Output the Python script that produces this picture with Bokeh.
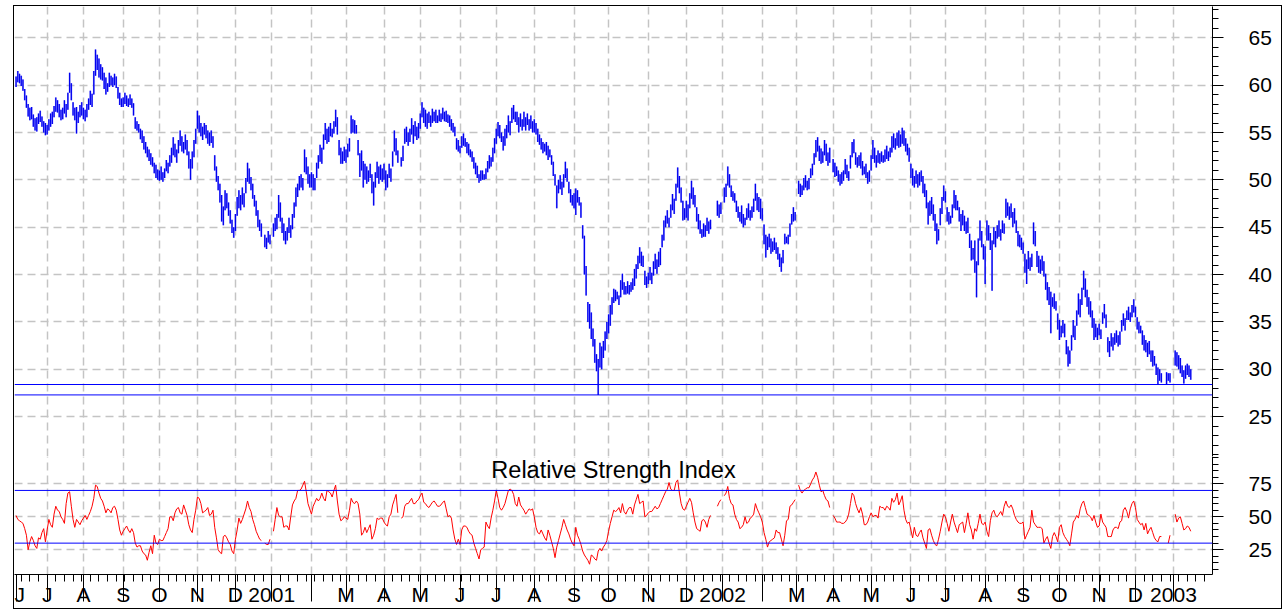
import numpy as np
import pandas as pd
from bokeh.plotting import figure
from bokeh.layouts import column
from bokeh.models import Range1d, FixedTicker, Span, Label, ColumnDataSource, Grid
from bokeh.embed import file_html
from bokeh.resources import INLINE

START = "2000-06-07"
AXIS_END = "2003-01-31"

# ---- daily bars (one value per weekday from START; None = no trading) ----
high = [
    60.9,61.5,61.2,61.0,60.6,59.6,58.9,58.0,57.6,57.7,56.9,56.5,56.6,57.0,57.3,56.7,56.2,56.0,
    55.8,56.4,57.0,57.2,57.8,58.7,58.4,58.0,57.4,57.6,58.4,58.0,59.2,61.3,60.2,58.2,57.6,57.7,57.2,57.9,58.2,
    57.6,57.4,58.0,58.6,59.4,59.1,61.5,63.75,63.2,62.8,62.2,61.9,61.3,60.8,60.2,61.3,61.0,60.8,61.2,60.9,59.8,59.2,58.6,
    58.7,59.2,58.9,58.6,59.0,58.6,58.1,56.6,56.2,55.9,55.4,55.2,54.6,54.0,53.5,53.2,52.8,52.4,51.8,51.6,51.1,
    51.0,51.4,50.8,51.2,52.1,51.8,52.6,53.4,54.5,53.8,53.2,54.2,55.2,54.6,54.0,54.8,54.2,53.0,52.2,53.0,54.2,55.4,
    57.3,56.8,56.0,55.6,56.0,55.8,55.2,55.0,55.2,54.6,52.6,51.4,50.4,49.6,48.4,47.2,48.9,48.6,47.6,46.8,45.8,45.0,
    46.4,48.2,48.9,48.4,49.2,48.6,50.2,51.8,51.2,50.3,49.6,48.4,47.8,46.8,45.8,45.4,None,44.2,43.9,44.6,44.2,
    None,45.4,46.0,46.4,48.4,47.6,46.0,45.4,44.6,45.0,46.0,45.2,46.4,47.6,49.2,49.6,50.4,50.6,50.2,53.2,52.4,51.4,50.6,
    50.8,50.6,50.2,51.8,52.6,53.7,53.4,54.8,56.0,55.4,55.6,56.0,55.4,56.2,57.4,56.6,54.2,53.4,53.0,53.5,
    53.2,53.8,54.4,56.8,56.4,56.3,55.8,54.2,52.8,53.1,52.0,51.7,51.4,51.0,51.7,50.6,49.8,50.8,51.9,51.4,51.6,51.2,
    51.7,51.0,50.6,51.7,51.2,53.0,55.2,54.4,53.1,None,52.4,53.6,55.4,55.6,55.0,55.4,56.5,55.8,56.2,55.6,56.0,
    57.0,58.2,57.6,57.4,57.0,57.2,56.8,57.5,57.2,57.4,56.8,57.4,57.0,57.6,57.2,57.3,56.9,56.8,56.4,56.0,55.6,54.4,54.2,
    53.6,54.6,54.9,54.4,54.0,53.8,53.2,53.0,52.4,51.8,51.5,50.6,51.0,51.0,50.6,51.2,52.0,52.6,52.4,53.4,54.4,
    55.4,56.1,55.8,55.0,54.6,55.4,55.8,56.8,56.2,57.6,57.9,57.2,57.2,56.6,57.0,56.4,57.2,56.6,57.0,56.4,56.8,56.2,
    56.4,56.0,55.4,54.8,54.4,54.0,53.8,54.0,53.6,53.2,52.6,51.9,50.6,49.4,50.0,50.5,49.8,50.6,51.9,51.2,49.8,49.0,48.4,
    48.6,49.1,48.9,48.2,47.6,45.2,44.1,40.9,37.1,36.9,36.0,34.3,33.2,31.6,31.1,32.8,32.4,33.0,34.0,35.0,
    35.8,36.8,37.6,38.5,38.4,38.2,37.8,39.4,40.1,39.2,38.8,39.3,38.9,39.2,39.6,40.6,41.1,42.0,42.9,42.4,42.0,40.4,39.8,
    40.2,40.8,40.2,41.4,42.2,41.6,42.4,42.8,44.2,45.7,46.2,46.8,46.0,47.4,48.5,48.0,49.6,51.3,50.4,49.2,47.8,47.0,
    47.8,47.4,48.6,49.9,49.2,48.4,47.1,46.4,45.7,44.8,45.4,45.2,46.0,45.6,45.8,None,None,None,47.8,47.4,47.6,
    None,49.2,49.6,51.4,50.6,49.4,48.8,48.6,47.8,47.2,46.6,47.3,46.4,46.0,47.0,47.5,46.8,47.2,48.0,49.6,48.6,48.2,48.0,
    47.0,45.3,44.2,44.0,44.3,43.8,43.5,43.9,43.4,42.9,42.2,41.8,42.6,44.3,44.0,44.2,45.4,46.4,47.1,46.6,
    None,49.9,49.6,49.4,50.2,50.5,49.9,50.2,51.2,51.7,52.8,54.2,54.5,53.6,53.3,53.0,54.2,53.8,52.9,53.4,None,
    52.2,51.8,51.4,51.0,50.6,50.8,51.0,52.2,51.6,50.9,52.6,54.0,54.3,52.9,52.4,52.6,52.9,52.0,51.4,51.7,50.8,51.0,
    52.6,54.2,53.4,52.6,53.1,52.8,53.0,52.6,53.2,53.6,53.0,53.4,54.6,54.9,54.4,55.0,55.2,54.8,55.5,55.2,54.4,53.8,53.4,
    51.7,51.2,50.4,51.0,50.6,50.8,51.0,50.4,49.6,48.9,47.6,47.8,48.2,47.4,46.4,45.4,44.8,47.0,48.2,49.4,
    48.8,47.1,46.6,46.2,47.4,48.9,48.4,47.8,47.1,46.4,46.8,46.2,45.6,46.0,44.3,43.6,42.8,43.6,41.4,43.8,45.7,44.6,43.2,
    43.0,45.7,45.2,44.4,43.6,45.0,44.6,45.2,45.7,44.8,45.7,45.4,48.0,47.6,47.2,47.5,46.6,47.0,45.7,44.6,44.2,43.9,
    43.4,42.2,41.6,42.5,41.8,42.2,45.5,44.6,42.5,42.0,41.6,42.0,41.4,40.1,39.2,38.7,38.2,37.6,38.0,37.2,35.9,
    35.2,34.6,35.2,34.8,33.1,32.4,32.0,33.6,35.2,34.6,36.2,38.0,37.4,38.6,40.4,39.6,38.4,37.6,37.2,36.2,35.4,34.8,34.4,
    34.8,34.2,36.0,36.9,35.8,33.4,33.0,33.8,33.4,33.8,34.1,33.6,34.0,35.2,35.9,35.4,36.2,36.6,36.0,36.8,37.4,
    36.6,35.5,35.0,34.6,34.1,33.6,33.1,32.8,33.0,32.0,32.0,31.4,30.6,30.2,30.0,29.6,None,None,29.7,29.6,29.6,None,
    None,32.0,31.8,31.5,31.2,30.4,29.9,30.4,30.6,30.4,30.0,
]
low = [
    59.8,60.3,60.2,59.9,59.4,58.4,57.6,56.7,56.3,56.4,55.6,55.2,55.1,55.9,56.1,55.6,55.0,54.7,
    54.8,55.2,55.6,55.9,56.6,57.2,57.1,56.6,56.3,56.4,57.0,56.6,57.4,59.2,58.4,56.8,56.3,54.9,56.0,56.6,56.8,
    56.4,56.2,56.6,57.4,57.9,57.7,59.0,61.0,61.6,60.8,60.6,60.5,59.6,59.0,59.3,59.8,60.0,59.8,60.0,59.7,58.6,57.9,57.7,
    57.7,58.0,57.8,57.7,57.9,57.6,56.8,55.4,55.2,55.0,54.3,53.9,53.2,52.8,52.4,52.0,51.6,51.4,50.7,50.2,50.0,
    49.9,50.0,49.8,50.2,50.9,50.7,51.4,51.8,52.6,52.4,51.8,52.8,53.6,53.0,52.8,53.2,52.6,51.2,50.0,51.2,52.4,53.8,
    55.4,55.0,54.6,54.2,54.8,54.4,53.8,53.6,53.9,53.4,51.0,49.8,48.9,47.6,45.6,45.2,46.8,47.0,46.2,45.4,44.4,43.9,
    44.6,46.2,47.0,46.8,47.4,47.1,48.6,49.8,49.6,48.9,48.0,47.2,46.2,45.0,44.6,44.0,None,42.9,42.7,43.4,43.2,
    None,44.0,44.6,44.8,46.0,45.6,44.4,43.6,43.2,43.6,44.4,43.9,44.8,46.0,47.2,48.2,48.9,49.2,48.9,50.8,50.6,49.6,49.2,
    49.2,48.9,48.9,50.2,51.2,51.9,51.7,53.2,54.2,53.8,54.0,54.6,54.5,54.9,55.6,54.8,52.6,51.7,51.7,52.0,
    51.8,52.4,53.0,54.9,55.0,54.9,54.9,52.6,50.3,51.0,49.2,50.0,49.6,49.8,50.2,48.6,47.3,49.2,50.2,49.6,50.0,49.8,
    50.0,48.9,49.2,50.2,49.8,51.4,53.0,52.6,51.8,None,51.4,52.0,53.8,54.0,53.6,54.0,54.8,53.8,54.6,54.2,54.4,
    55.4,56.6,56.0,55.6,55.4,56.0,55.6,56.0,56.2,56.0,56.0,56.2,56.1,56.4,56.2,56.1,56.0,55.6,55.2,55.0,54.6,53.2,53.0,
    52.8,53.4,53.6,53.5,52.8,52.6,52.4,51.9,51.2,50.6,50.2,49.7,49.9,50.0,50.0,50.1,50.8,51.2,51.4,51.9,52.8,
    53.8,54.6,54.4,54.0,53.1,53.6,54.4,55.0,54.7,56.0,56.4,56.1,55.8,55.0,55.6,55.2,55.6,55.2,55.8,55.2,55.4,55.0,
    55.0,54.8,54.0,53.7,53.2,52.8,53.0,52.6,52.1,52.4,51.6,50.4,49.4,47.0,48.6,49.0,48.4,49.2,50.2,49.8,48.6,47.6,47.3,
    47.0,46.3,47.6,47.3,46.0,43.8,40.0,37.8,35.0,34.3,33.2,32.4,30.7,29.8,27.3,30.2,30.0,31.2,32.0,33.2,
    33.8,34.6,35.8,37.0,37.2,37.4,36.8,37.6,38.4,37.9,37.9,38.0,37.9,38.2,38.4,38.8,39.6,40.6,41.2,40.9,40.8,38.9,38.6,
    39.0,39.4,39.0,39.9,40.6,40.1,40.8,41.0,42.9,43.6,45.0,45.4,45.0,46.0,46.8,46.4,47.8,49.2,48.6,47.6,45.7,45.8,
    46.0,45.7,47.0,48.0,47.4,47.1,45.6,44.8,44.3,43.9,44.0,44.0,44.6,44.3,44.8,None,None,None,46.2,46.0,46.4,
    None,47.6,48.2,49.4,49.2,48.2,47.8,47.6,46.6,46.0,45.6,45.4,45.0,45.2,45.8,46.0,45.7,46.0,46.6,47.8,46.8,46.6,45.9,
    45.7,43.2,41.8,42.6,42.9,42.2,42.4,42.6,42.2,41.6,40.8,40.3,41.2,43.2,43.3,43.2,44.0,45.3,45.6,45.7,
    None,48.5,48.2,48.4,48.9,49.2,48.9,49.0,50.2,50.5,51.6,52.4,53.0,52.0,51.7,51.8,52.6,52.0,51.5,51.8,None,
    50.8,50.3,50.4,49.8,49.4,49.6,49.9,50.6,50.2,49.9,51.2,52.4,52.8,51.6,51.3,51.5,51.2,50.5,50.6,50.2,49.6,49.8,
    51.0,52.2,51.8,51.3,51.8,51.7,51.9,51.8,51.9,52.2,52.0,52.4,52.9,53.4,53.2,53.6,53.4,53.5,53.8,53.6,53.0,52.6,51.9,
    50.2,49.4,49.2,49.6,49.2,49.4,49.8,48.6,48.2,47.0,45.3,46.2,46.4,45.7,44.6,43.2,43.6,45.2,46.4,47.8,
    47.6,45.6,45.3,45.4,46.0,47.0,46.8,46.8,45.6,44.6,45.2,44.6,44.3,44.4,42.8,41.5,41.6,40.2,37.6,41.0,43.6,42.9,41.6,
    39.0,43.6,43.6,42.6,38.3,43.2,42.9,43.8,44.0,43.6,44.4,44.3,46.0,46.2,45.8,46.0,45.0,45.4,44.4,43.0,42.9,42.6,
    42.2,40.2,39.0,40.6,40.4,40.8,43.2,43.0,40.8,40.2,40.1,40.4,39.8,38.4,37.3,36.8,33.8,36.6,36.4,36.2,34.2,
    33.1,33.4,33.8,33.4,31.6,30.3,30.6,32.0,33.4,33.1,34.6,35.8,35.5,36.8,38.4,37.6,36.6,35.8,35.5,34.4,33.1,33.4,33.1,
    33.6,33.2,34.8,35.4,34.4,31.8,31.3,32.4,32.0,32.6,32.8,32.4,32.6,34.0,34.6,34.1,35.2,35.2,35.0,35.5,36.0,
    35.5,34.2,33.8,33.8,32.6,32.0,31.8,31.3,31.6,30.8,30.3,30.4,29.4,28.4,28.8,28.6,None,None,28.4,28.8,28.6,None,
    None,30.4,30.3,30.0,29.6,29.2,28.5,29.0,29.4,29.2,28.9,
]
rsi = [
    51,48,47,46,45,41,36,25,31,35,32,28,26,34,33,38,41,31,
    40,48,44,42,52,58,55,54,50,48,45,60,68,69,58,48,42,48,46,44,47,
    49,51,48,51,54,58,64,74,73,68,64,62,58,53,56,55,53,57,58,55,48,40,36,
    39,41,43,40,38,41,38,30,27,28,28,24,22,21,17,23,28,22,36,30,29,
    33,32,32,35,38,41,50,50,47,53,56,57,53,52,59,55,51,44,40,38,48,55,
    65,64,60,53,54,55,57,51,52,55,42,34,25,23,22,35,36,34,31,29,24,22,
    33,40,49,45,48,52,56,62,57,54,48,44,39,36,33,32,None,30,29,29,33,
    None,39,48,57,51,50,50,42,43,43,40,50,59,62,64,70,70,71,74,77,69,60,56,
    52,58,61,64,62,64,68,64,62,70,69,68,65,70,74,62,52,47,48,50,
    49,48,55,64,61,60,62,60,52,36,38,42,38,41,44,33,36,41,49,48,49,49,
    46,44,43,50,52,59,63,67,53,None,49,50,58,60,60,62,64,60,60,62,63,
    66,68,61,60,58,57,59,61,62,60,58,58,59,61,62,56,50,51,49,40,33,29,33,
    29,40,43,43,42,39,37,36,30,26,22,18,25,26,27,46,43,41,49,55,62,
    70,64,57,55,57,60,65,70,71,70,67,60,58,65,59,57,55,52,54,56,55,56,
    50,42,38,37,40,37,34,32,40,36,31,26,19,27,32,37,42,48,44,40,37,33,30,
    28,42,36,33,29,24,21,19,17,14,21,20,18,17,24,26,24,27,29,32,
    39,45,50,55,54,55,57,53,60,54,52,55,57,57,52,59,63,67,60,61,62,50,51,
    53,54,54,56,58,56,57,60,63,66,69,71,76,71,70,70,76,78,68,60,56,55,
    58,61,64,61,53,46,41,40,39,47,48,46,42,48,51,None,None,None,58,61,63,
    None,66,68,73,64,60,59,52,48,46,41,42,44,50,45,46,49,50,52,60,56,53,50,
    46,38,33,27,31,32,33,34,40,38,38,33,28,36,47,48,58,59,61,63,
    None,74,70,68,70,71,72,72,75,78,80,84,80,74,69,70,66,63,62,57,None,
    51,49,46,46,46,45,45,46,48,52,60,68,66,60,56,53,57,52,44,44,46,50,
    53,50,51,51,49,58,57,57,55,58,57,55,64,61,63,68,59,62,66,55,48,45,46,
    40,34,42,36,35,38,40,34,30,26,40,41,36,32,29,28,33,39,46,52,
    50,45,39,46,52,46,42,38,44,45,46,38,45,53,44,40,33,41,39,45,52,45,44,
    46,39,35,47,53,55,51,50,52,54,51,58,62,58,57,59,56,51,48,46,45,45,
    46,33,36,39,42,55,46,44,42,42,42,41,30,33,35,30,26,35,38,35,31,
    42,44,38,35,33,31,28,37,46,48,51,49,56,60,62,57,52,51,50,47,51,46,42,
    43,52,46,44,42,35,35,35,40,42,42,41,46,47,55,57,54,49,56,60,62,
    57,48,46,44,45,40,45,37,40,42,38,34,32,31,35,35,None,None,None,30,36,None,
    None,52,46,49,50,45,40,41,43,42,39,
]
support_levels = [28.4, 27.3]
rsi_levels = [70, 30]
price_ticks = [25, 30, 35, 40, 45, 50, 55, 60, 65]
rsi_ticks = [25, 50, 75]
rsi_title = "Relative Strength Index"

# ---- positions on a weekday axis ----
n = len(high)
axis_days = pd.bdate_range(START, AXIS_END)
pos = np.arange(n)
mkey = np.asarray(axis_days.year * 12 + axis_days.month)
starts = np.nonzero(np.r_[True, mkey[1:] != mkey[:-1]])[0]
month_grid = [int(i) for i in starts[1:]]
labels = {}
for i in starts:
    d = axis_days[i]
    if d.month == 1:
        labels[int(i)] = str(d.year)
    elif d.month == 2:
        labels[int(i)] = ""
    else:
        labels[int(i)] = d.strftime("%b")[0]
mondays = [int(i) for i in np.nonzero(np.asarray(axis_days.weekday) == 0)[0]]

src = ColumnDataSource(dict(x=pos,
                            high=np.array(high, dtype=float),
                            low=np.array(low, dtype=float),
                            rsi=np.array(rsi, dtype=float)))

FONT = "Liberation Sans"
GRID_COLOR = "#c4c4c4"
W = 1267
xr = Range1d(-0.9, 692.6)


def style_right_axis(ax, ticks, minor):
    ax.ticker = FixedTicker(ticks=ticks, minor_ticks=minor)
    ax.major_tick_out = 11
    ax.major_tick_in = 0
    ax.minor_tick_out = 6
    ax.minor_tick_in = 0
    ax.axis_line_color = "black"
    ax.major_tick_line_color = "black"
    ax.minor_tick_line_color = "black"
    ax.major_label_standoff = 25
    ax.major_label_text_font = FONT
    ax.major_label_text_font_size = "21px"
    ax.major_label_text_color = "black"


def add_grids(p, yticks):
    p.center = []
    p.add_layout(Grid(dimension=0, ticker=FixedTicker(ticks=month_grid),
                      grid_line_color=GRID_COLOR, grid_line_dash="8 5", grid_line_width=1.5))
    p.add_layout(Grid(dimension=1, ticker=FixedTicker(ticks=yticks),
                      grid_line_color=GRID_COLOR, grid_line_dash="8 5", grid_line_width=1.5))


# ---- price panel ----
p1 = figure(width=W, height=450, x_range=xr, y_range=Range1d(20.8, 68.3),
            x_axis_location=None, y_axis_location="right",
            toolbar_location=None, output_backend="svg",
            min_border_left=0, min_border_right=69, min_border_top=0, min_border_bottom=0,
            outline_line_color=None, background_fill_color="white", border_fill_color="white")
add_grids(p1, price_ticks)
style_right_axis(p1.yaxis[0], price_ticks, list(range(21, 69)))
for lvl in support_levels:
    p1.add_layout(Span(location=lvl, dimension="width", line_color="#0000ff", line_width=1))
p1.vbar(x="x", top="high", bottom="low", width=1.0, source=src,
        fill_color="#6f6fff", fill_alpha=0.85, line_color=None)
p1.segment(x0="x", y0="low", x1="x", y1="high", source=src,
           line_color="#0000ee", line_width=1.2)

# ---- RSI panel ----
p2 = figure(width=W, height=152, x_range=xr, y_range=Range1d(6.2, 95.75),
            x_axis_location="below", y_axis_location="right",
            toolbar_location=None, output_backend="svg",
            min_border_left=0, min_border_right=69, min_border_top=0, min_border_bottom=32,
            outline_line_color=None, background_fill_color="white", border_fill_color="white")
add_grids(p2, rsi_ticks)
style_right_axis(p2.yaxis[0], rsi_ticks, list(range(10, 96, 5)))
for lvl in rsi_levels:
    p2.add_layout(Span(location=lvl, dimension="width", line_color="#0000ff", line_width=1))
p2.line(x="x", y="rsi", source=src, line_color="#ff0000", line_width=1)
p2.add_layout(Label(x=(xr.start + xr.end) / 2, y=85.5, text=rsi_title,
                    text_align="center", text_baseline="alphabetic",
                    text_font=FONT, text_font_size="23.5px", text_color="black"))

xa = p2.xaxis[0]
xa.ticker = FixedTicker(ticks=[int(i) for i in starts], minor_ticks=mondays)
xa.major_label_overrides = labels
xa.major_tick_out = 27
xa.major_tick_in = 0
xa.minor_tick_out = 7
xa.minor_tick_in = 0
xa.axis_line_color = "black"
xa.major_tick_line_color = "black"
xa.minor_tick_line_color = "black"
xa.major_label_standoff = -19
xa.major_label_text_align = "left"
xa.major_label_text_font = FONT
xa.major_label_text_font_size = "21px"
xa.major_label_text_color = "black"

layout = column(p1, p2, styles={"border": "1px solid black",
                                "margin-left": "13px", "margin-top": "5px"})
open("out.html", "w").write(file_html(layout, INLINE))
